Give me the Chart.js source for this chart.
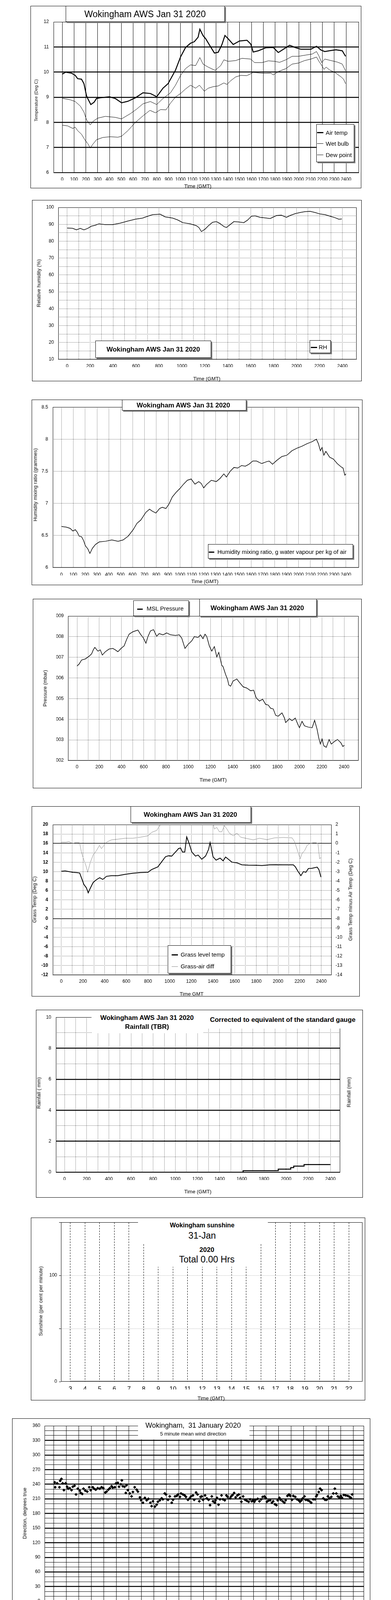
<!DOCTYPE html>
<html>
<head>
<meta charset="utf-8">
<title>Wokingham AWS Jan 31 2020</title>
<script src="https://cdn.jsdelivr.net/npm/chart.js"></script>
<style>
  body { margin: 0; background: #fff; }
  #page { position: relative; width: 1000px; height: 5000px; font-family: 'Liberation Sans', Arial, sans-serif; color: #000; }
  .frame { position: absolute; border: 1px solid #000; box-sizing: border-box; }
  #page canvas { position: absolute; }
  .txt { position: absolute; white-space: pre; transform: translate(-50%, -50%); line-height: 1; }
  .ltxt { position: absolute; white-space: pre; transform: translate(0, -50%); line-height: 1; }
  .vtxt { position: absolute; white-space: pre; transform: translate(-50%, -50%) rotate(-90deg); font-size: 13px; line-height: 1; }
  .lab { position: absolute; background: #fff; border: 1px solid #000; box-sizing: border-box; box-shadow: 3px 3px 0 #808080; }
  .cover { position: absolute; background: #fff; }
  .sw { position: absolute; height: 0; }
</style>
</head>
<body>
<div id="page"></div>
<script>
// time axis for the 24h charts: hundreds per hour (1230 = half past twelve)
const hhmmTicks = [0,100,200,300,400,500,600,700,800,900,1000,1100,1200,1300,1400,1500,1600,1700,1800,1900,2000,2100,2200,2300,2400];

// temperature chart
const tempTicks = [6,7,8,9,10,11,12];
const airTime = [0,30,78,110,131,163,184,205,216,242,269,290,322,400,449,502,555,619,683,746,799,852,895,958,1001,1043,1085,1117,1149,1164,1191,1213,1244,1287,1319,1350,1376,1403,1446,1499,1562,1594,1615,1658,1721,1785,1827,1870,1923,1976,2018,2103,2150,2188,2220,2273,2315,2368,2383,2396];
const airTemp = [9.92,10.0,9.96,9.87,9.74,9.72,9.54,9.07,8.95,8.71,8.80,8.95,8.98,9.02,8.95,8.78,8.84,8.98,9.18,9.15,9.02,9.36,9.54,10.08,10.61,10.98,11.15,11.21,11.39,11.71,11.45,11.33,11.09,10.76,10.79,11.09,11.46,11.33,11.10,11.24,11.27,11.12,10.80,10.85,10.97,10.98,10.78,10.91,11.07,10.97,10.91,10.91,11.03,10.88,10.82,10.86,10.89,10.85,10.73,10.63];
const wetTime = [0,68,110,153,184,205,237,263,301,365,449,502,577,630,683,746,799,852,916,958,1001,1043,1085,1128,1164,1191,1234,1293,1340,1367,1403,1467,1520,1594,1626,1690,1743,1796,1838,1891,1944,1997,2061,2114,2150,2171,2194,2220,2273,2326,2368,2396];
const wetTemp = [8.96,8.90,8.83,8.65,8.41,8.11,7.90,8.05,8.17,8.24,8.20,8.14,8.35,8.53,8.74,8.83,8.71,8.95,9.18,9.48,9.87,10.14,10.29,10.26,10.58,10.32,10.20,10.07,10.26,10.49,10.43,10.46,10.55,10.52,10.38,10.38,10.45,10.43,10.39,10.49,10.63,10.63,10.68,10.72,10.82,10.64,10.38,10.52,10.46,10.40,10.32,10.05];
const dewTime = [0,47,89,110,131,163,195,216,237,259,290,343,407,471,502,555,619,683,742,789,831,878,916,958,1001,1043,1085,1128,1160,1202,1234,1276,1319,1367,1393,1425,1467,1510,1562,1615,1679,1721,1764,1785,1827,1891,1944,1997,2050,2103,2150,2171,2194,2214,2231,2263,2305,2358,2379,2396];
const dewTemp = [7.89,7.86,7.76,7.81,7.67,7.53,7.28,7.16,6.98,7.13,7.31,7.40,7.43,7.41,7.45,7.67,8.00,8.26,8.48,8.38,8.51,8.50,8.77,9.01,9.15,9.33,9.48,9.36,9.48,9.24,9.36,9.42,9.45,9.57,9.51,9.66,9.81,9.87,9.86,9.99,9.96,9.95,9.96,9.89,10.02,10.14,10.32,10.36,10.46,10.52,10.60,10.43,10.27,10.11,10.20,10.08,9.99,9.81,9.72,9.54];

// relative humidity
const rhTicks = [10,15,20,25,30,35,40,45,50,55,60,65,70,75,80,85,90,95,100];
const rhTime = [0,48,81,113,146,179,211,244,277,331,397,462,527,593,658,702,745,810,854,919,963,1007,1072,1126,1148,1170,1203,1235,1268,1301,1333,1366,1388,1420,1453,1497,1540,1573,1606,1638,1682,1725,1769,1791,1824,1867,1911,1943,1987,2031,2074,2118,2161,2205,2248,2292,2336,2368,2394];
const rhVal = [87.8,87.6,86.7,87.6,86.7,87.6,88.9,89.4,90.3,89.8,89.8,90.7,91.9,93.0,93.7,94.8,95.7,96.0,94.4,93.7,92.6,91.0,90.3,89.2,88.1,85.7,87.2,89.4,91.2,91.6,90.4,88.7,88.1,89.8,91.6,91.4,91.0,92.5,94.8,95.0,94.1,93.8,93.4,94.1,95.2,95.4,94.1,95.2,96.3,97.0,97.5,97.7,97.0,96.1,95.7,94.8,93.9,93.0,93.2];

// mixing ratio
const mixTicks = [6,6.5,7,7.5,8,8.5];
const mixTime = [0,42,74,96,117,134,149,170,187,202,223,240,261,287,319,372,425,478,520,563,605,637,669,712,743,765,797,828,850,881,907,935,966,998,1030,1062,1094,1126,1158,1179,1200,1221,1264,1306,1338,1370,1391,1423,1455,1487,1519,1551,1582,1614,1646,1689,1731,1752,1780,1816,1859,1901,1944,1986,2028,2071,2113,2150,2167,2184,2198,2213,2230,2262,2294,2326,2358,2375,2390,2400];
const mixVal = [6.64,6.63,6.61,6.57,6.59,6.55,6.49,6.48,6.42,6.34,6.29,6.22,6.30,6.36,6.40,6.41,6.43,6.41,6.43,6.49,6.59,6.69,6.74,6.86,6.91,6.88,6.85,6.92,6.94,6.92,6.99,7.10,7.17,7.23,7.30,7.36,7.38,7.30,7.34,7.31,7.24,7.29,7.36,7.34,7.39,7.46,7.41,7.50,7.56,7.55,7.59,7.58,7.61,7.66,7.66,7.62,7.65,7.66,7.61,7.67,7.73,7.75,7.82,7.86,7.89,7.93,7.96,8.00,7.93,7.82,7.87,7.75,7.81,7.72,7.69,7.62,7.57,7.55,7.44,7.46];

// MSL pressure
const presTicks = [1002,1003,1004,1005,1006,1007,1008,1009];
const presTime = [0,18,41,74,108,131,146,160,187,209,227,254,288,322,344,367,401,423,446,468,502,547,570,597,619,637,660,687,716,738,772,806,840,885,918,941,970,997,1031,1054,1087,1110,1132,1150,1166,1189,1211,1234,1256,1274,1290,1301,1312,1335,1353,1364,1380,1402,1436,1459,1493,1526,1560,1587,1610,1639,1668,1695,1718,1740,1763,1785,1808,1842,1864,1875,1909,1932,1961,1988,1999,2022,2044,2078,2113,2135,2157,2173,2187,2202,2218,2240,2265,2285,2315,2341,2371,2389,2402];
const presVal = [1006.58,1006.67,1006.87,1006.92,1007.05,1007.17,1007.36,1007.48,1007.30,1007.36,1007.11,1007.27,1007.40,1007.43,1007.36,1007.27,1007.46,1007.55,1007.87,1008.12,1008.24,1008.32,1008.12,1007.93,1007.68,1008.00,1008.28,1008.34,1008.02,1008.15,1008.09,1008.18,1008.09,1008.06,1008.09,1007.93,1007.43,1007.62,1007.80,1008.00,1007.96,1008.09,1007.90,1008.12,1008.00,1007.55,1007.30,1007.52,1007.02,1007.24,1006.86,1006.61,1006.55,1006.17,1005.92,1005.66,1005.60,1005.85,1005.95,1005.79,1005.57,1005.51,1005.38,1005.41,1005.04,1004.88,1004.97,1004.72,1004.69,1004.53,1004.50,1004.19,1004.15,1004.31,1004.06,1003.84,1004.03,1003.93,1004.06,1003.71,1003.59,1003.90,1003.68,1003.62,1003.59,1003.95,1003.52,1003.08,1002.80,1003.05,1002.71,1002.64,1003.02,1002.80,1002.93,1003.02,1002.86,1002.68,1002.74];

// grass temperature (left axis) and grass minus air (right axis)
const grassTicks = [-12,-10,-8,-6,-4,-2,0,2,4,6,8,10,12,14,16,18,20];
const diffTicks = [-14,-13,-12,-11,-10,-9,-8,-7,-6,-5,-4,-3,-2,-1,0,1,2];
const grassTime = [0,35,69,104,139,169,185,208,231,248,266,294,324,354,382,417,463,521,590,660,729,799,833,891,926,961,988,1019,1042,1065,1081,1100,1118,1139,1157,1181,1204,1238,1262,1296,1331,1359,1373,1389,1400,1428,1465,1493,1516,1544,1574,1620,1667,1725,1794,1852,1921,1979,2049,2141,2160,2183,2211,2234,2257,2280,2315,2361,2377,2396];
const grassVal = [10.06,10.14,10.0,9.86,9.80,9.71,8.71,7.27,6.55,5.49,6.41,7.70,8.28,8.71,8.33,9.0,9.14,9.14,9.43,9.66,9.80,9.86,10.43,11.01,12.10,13.16,13.36,13.30,13.88,14.45,14.89,15.03,14.17,14.17,17.39,15.89,14.17,13.30,13.53,12.64,13.30,14.74,16.18,14.45,13.16,12.44,12.87,12.30,13.10,12.59,12.01,11.87,11.44,11.38,11.35,11.29,11.44,11.47,11.44,11.44,11.01,10.09,9.14,10.0,9.86,10.66,10.72,10.95,10.43,8.85];
const diffTime = [0,46,69,104,139,169,185,208,227,243,266,294,324,352,370,394,417,463,521,590,660,729,799,833,880,914,950,1000,1050,1100,1157,1200,1250,1285,1308,1331,1373,1400,1412,1435,1458,1481,1505,1528,1551,1586,1620,1655,1713,1771,1829,1898,1968,2049,2130,2153,2176,2204,2222,2245,2269,2299,2338,2368,2384,2396];
const diffVal = [0.13,0.13,0.20,-0.01,0.12,0.06,-0.92,-1.78,-2.36,-3.07,-2.07,-1.21,-0.77,-0.20,-0.56,-0.20,0.13,0.38,0.45,0.55,0.55,0.66,0.81,1.17,1.38,2.0,2.3,2.6,3.0,3.8,5.8,3.1,2.4,1.98,2.2,2.5,4.8,2.2,1.53,1.70,1.24,1.24,1.89,1.53,1.09,0.81,1.09,0.66,0.52,0.38,0.55,0.40,0.59,0.63,0.59,0.16,-0.63,-1.64,-1.06,-0.77,-0.20,0.02,0.09,0.02,-1.64,-1.49];

// rainfall, cumulative mm (tipping bucket steps)
const rainTicks = [0,1,2,3,4,5,6,7,8,9,10];
const rainTime = [0,1612,1929,2042,2069,2162,2400];
const rainVal = [0,0.1,0.2,0.3,0.4,0.5,0.5];

// sunshine
const sunHours = [3,4,5,6,7,8,9,10,11,12,13,14,15,16,17,18,19,20,21,22];
const sunVal = [0,0,0,0,0,0,0,0,0,0,0,0,0,0,0,0,0,0,0,0];
const sunTicks = [0,50,100,150];

// wind direction, 5 minute means
const dayHours = [0,1,2,3,4,5,6,7,8,9,10,11,12,13,14,15,16,17,18,19,20,21,22,23,24];
const dirTicks = [0,10,20,30,40,50,60,70,80,90,100,110,120,130,140,150,160,170,180,190,200,210,220,230,240,250,260,270,280,290,300,310,320,330,340,350,360];
const dirHour = [
  0.06,0.10,0.26,0.44,0.50,0.60,0.70,0.80,0.94,
  1.06,1.14,1.27,1.41,1.51,1.65,1.77,1.91,
  2.07,2.15,2.27,2.37,2.51,2.67,2.83,2.95,
  3.11,3.21,3.35,3.51,3.67,3.82,3.96,
  4.12,4.22,4.36,4.48,4.62,4.72,4.88,4.98,
  5.12,5.22,5.36,5.44,5.52,5.66,5.76,5.82,5.92,
  6.08,6.22,6.33,6.47,6.63,6.73,6.89,6.99,
  7.13,7.29,7.43,7.57,7.73,7.83,7.93,
  8.09,8.23,8.33,8.49,8.63,8.73,8.88,8.98,
  9.14,9.28,9.44,9.54,9.70,9.84,9.94,
  10.10,10.18,10.34,10.48,10.58,10.74,10.88,10.98,
  11.14,11.24,11.39,11.51,11.65,11.75,11.85,11.95,
  12.11,12.25,12.39,12.51,12.65,12.75,12.89,12.95,
  13.07,13.19,13.31,13.43,13.55,13.69,13.82,13.92,
  14.12,14.20,14.32,14.44,14.56,14.70,14.82,14.92,
  15.02,15.16,15.32,15.46,15.60,15.72,15.86,15.96,
  16.06,16.16,16.33,16.47,16.61,16.73,16.87,16.97,
  17.07,17.17,17.33,17.47,17.57,17.71,17.83,17.93,
  18.07,18.17,18.33,18.47,18.57,18.71,18.84,18.94,
  19.08,19.18,19.34,19.48,19.62,19.72,19.84,19.94,
  20.08,20.18,20.34,20.48,20.62,20.78,20.92,
  21.02,21.08,21.22,21.33,21.45,21.59,21.73,21.85,21.95,
  22.08,22.23,22.39,22.51,22.63,22.75,22.89,22.99,
  23.09,23.23,23.39,23.55,23.69,23.80,23.90];
const dirDeg = [
  244,234,242,234,247,251,242,228,242,
  235,231,232,228,235,237,219,231,
  227,222,220,231,227,225,234,228,
  234,231,229,232,231,234,232,
  223,225,229,232,236,233,234,242,
  243,235,240,248,236,235,222,238,228,
  221,215,224,234,229,225,213,207,
  202,212,207,210,202,195,205,
  194,198,204,207,211,209,221,219,
  208,215,202,208,215,216,219,
  214,221,219,217,214,208,211,215,
  217,208,223,219,205,214,215,208,
  217,211,208,197,215,205,202,207,
  212,198,209,217,209,207,217,214,
  211,215,218,222,213,217,219,212,
  204,215,208,206,204,209,205,207,
  204,208,210,205,209,214,215,212,
  204,206,207,202,205,199,197,207,
  212,208,205,202,207,216,219,216,
  208,216,214,209,207,204,207,211,
  215,208,207,205,202,209,209,
  215,218,224,231,228,211,208,208,215,
  211,214,221,231,221,215,212,216,
  212,218,217,216,214,212,219];

// wind speed, knots
const clockTicks = [0,1,2,3,4,5,6,7,8,9,10,11,12,13,14,15,16,17,18,19,20,21,22,23];
const clockLabels = ['00:00','01:00','02:00','03:00','04:00','05:00','06:00','07:00','08:00','09:00','10:00','11:00','12:00','13:00','14:00','15:00','16:00','17:00','18:00','19:00','20:00','21:00','22:00','23:00'];
const speedTicks = [0,5,10,15,20,25,30,35,40,45,50];
const meanTime = [0,0.16,0.31,0.45,0.65,0.84,0.98,1.14,1.33,1.53,1.72,1.92,2.11,2.31,2.47,2.60,2.80,2.99,3.19,3.39,3.68,3.97,4.27,4.56,4.85,5.09,5.34,5.64,5.93,6.22,6.52,6.77,7.01,7.30,7.59,7.89,8.18,8.47,8.77,8.96,9.26,9.55,9.90,10.14,10.43,10.63,10.82,11.08,11.31,11.51,11.74,11.99,12.29,12.58,12.78,12.97,13.23,13.46,13.70,13.99,14.25,14.54,14.83,15.13,15.42,15.71,16.01,16.30,16.56,16.79,17.03,17.28,17.57,17.87,18.16,18.45,18.75,18.94,19.24,19.49,19.73,20.02,20.31,20.61,20.90,21.19,21.49,21.78,22.04,22.27,22.56,22.86,23.09,23.35,23.64,23.88,24.0];
const meanSpeed = [6.4,7.1,6.1,6.1,8.2,8.4,5.6,7.3,6.6,6.8,6.4,6.1,6.6,6.1,4.9,7.1,9.9,9.8,8.0,8.9,10.0,8.9,8.6,9.3,10.8,9.9,6.8,7.8,7.3,8.7,7.8,9.2,7.1,8.7,7.1,6.6,7.8,7.5,8.2,7.5,10.3,11.8,15.5,13.2,13.9,11.3,13.9,12.9,14.6,13.2,11.5,11.8,10.8,11.5,12.2,9.4,11.8,10.1,11.5,14.6,12.5,12.2,12.2,9.9,11.8,10.8,12.2,10.1,9.4,10.6,12.2,9.4,11.3,9.9,8.7,9.9,9.4,8.2,9.4,11.5,9.9,9.0,8.7,8.2,8.0,7.8,8.9,9.2,6.4,6.8,7.1,7.5,7.3,8.7,7.3,9.4,9.7];
const gustTime = [
  0,0.08,0.15,0.22,0.28,0.38,0.45,0.52,0.58,0.66,0.72,0.80,0.88,0.95,
  1.02,1.10,1.18,1.26,1.33,1.42,1.50,1.58,1.66,1.74,1.82,1.90,1.98,
  2.06,2.14,2.22,2.30,2.40,2.50,2.58,2.66,2.72,2.80,2.88,2.96,
  3.04,3.12,3.20,3.28,3.36,3.42,3.50,3.58,3.66,3.74,3.82,3.90,3.98,
  4.06,4.14,4.22,4.30,4.38,4.46,4.54,4.62,4.70,4.78,4.86,4.94,
  5.02,5.10,5.18,5.26,5.34,5.42,5.50,5.58,5.66,5.74,5.82,5.90,5.98,
  6.06,6.14,6.22,6.30,6.38,6.46,6.54,6.62,6.70,6.78,6.86,6.94,
  7.02,7.10,7.18,7.26,7.34,7.42,7.50,7.58,7.66,7.74,7.82,7.90,7.98,
  8.06,8.14,8.22,8.30,8.38,8.46,8.54,8.62,8.70,8.78,8.86,8.94,
  9.02,9.10,9.18,9.26,9.34,9.42,9.48,9.56,9.62,9.70,9.76,9.84,9.92,
  10.00,10.08,10.16,10.24,10.32,10.40,10.48,10.56,10.64,10.70,10.78,10.84,10.92,
  11.00,11.08,11.16,11.24,11.32,11.40,11.48,11.56,11.64,11.72,11.80,11.88,11.96,
  12.04,12.12,12.20,12.28,12.36,12.44,12.52,12.60,12.68,12.76,12.84,12.92,
  13.00,13.08,13.16,13.24,13.32,13.40,13.48,13.56,13.64,13.72,13.80,13.86,13.94,
  14.02,14.10,14.16,14.24,14.32,14.40,14.48,14.56,14.64,14.72,14.80,14.88,14.96,
  15.04,15.12,15.20,15.28,15.36,15.44,15.52,15.60,15.68,15.76,15.84,15.92,
  16.00,16.08,16.16,16.24,16.32,16.40,16.48,16.56,16.64,16.72,16.80,16.88,16.96,
  17.04,17.12,17.20,17.28,17.36,17.44,17.52,17.60,17.68,17.76,17.84,17.92,
  18.00,18.08,18.16,18.24,18.32,18.40,18.48,18.56,18.64,18.72,18.80,18.88,18.96,
  19.04,19.12,19.20,19.28,19.36,19.43,19.50,19.58,19.66,19.74,19.82,19.90,19.98,
  20.06,20.14,20.22,20.30,20.38,20.46,20.54,20.62,20.70,20.78,20.86,20.94,
  21.02,21.10,21.18,21.26,21.34,21.42,21.50,21.58,21.66,21.74,21.82,21.90,21.98,
  22.06,22.14,22.22,22.30,22.38,22.46,22.54,22.62,22.70,22.78,22.86,22.94,
  23.02,23.10,23.18,23.26,23.34,23.42,23.50,23.58,23.66,23.74,23.82,23.88,23.94,24.00];
const gustSpeed = [
  9.5,12.0,7.0,15.5,8.0,18.4,9.0,17.4,8.5,14.0,9.0,13.5,9.5,12.0,
  7.5,11.5,8.0,13.7,8.5,12.5,9.0,13.0,8.0,11.0,8.5,12.5,7.5,
  11.0,8.0,12.5,7.0,10.5,7.5,13.5,10.0,16.0,11.0,15.0,11.5,
  14.0,10.5,15.5,11.0,17.0,10.5,18.3,11.5,16.0,10.5,14.5,11.0,13.5,
  10.5,14.0,9.5,15.5,10.5,14.5,11.0,16.0,11.5,18.6,12.0,16.0,
  11.0,13.5,9.0,12.5,8.0,13.0,9.0,14.5,9.5,15.5,10.0,13.0,9.0,
  14.5,9.5,15.5,10.0,13.5,9.0,14.0,10.5,15.5,10.0,13.0,9.0,
  14.0,9.5,12.5,8.5,14.0,9.0,12.0,8.0,13.0,8.5,12.0,8.0,13.5,
  9.0,14.0,9.5,12.5,8.5,14.0,9.5,15.5,10.0,16.0,10.5,13.0,
  11.5,16.5,13.0,19.5,14.0,26.6,16.0,21.0,17.0,26.6,18.0,21.5,16.5,
  20.0,15.0,22.0,16.0,19.0,14.5,21.0,15.5,27.1,17.0,25.4,17.5,23.0,
  15.0,21.0,15.5,20.0,14.5,19.0,14.0,20.5,13.5,18.0,13.0,17.5,12.5,
  19.0,13.0,16.5,12.5,20.5,13.5,18.0,14.0,19.5,13.5,17.0,11.5,
  16.0,12.5,20.0,13.0,18.5,12.5,21.5,14.0,24.5,15.5,28.2,17.0,22.0,
  16.0,26.5,17.5,21.0,15.0,22.5,15.5,20.0,14.0,19.0,14.5,21.5,13.5,
  18.0,12.0,19.5,13.0,17.5,12.5,20.0,13.5,18.5,12.5,17.0,13.0,
  19.0,14.0,18.0,12.5,16.5,12.0,19.5,13.0,17.0,23.1,14.5,18.5,13.0,
  17.5,12.5,16.0,11.5,18.0,12.5,16.5,12.0,17.0,11.5,16.0,11.0,
  15.0,10.5,16.5,11.0,14.5,10.5,15.5,11.0,14.0,10.0,13.5,10.5,15.0,
  11.5,16.5,12.0,18.0,12.5,19.3,13.0,17.0,11.5,15.5,11.0,14.5,10.5,
  15.0,10.0,13.5,10.5,14.5,10.0,13.0,9.5,14.0,10.0,15.5,10.5,
  13.5,9.5,14.0,10.0,16.0,10.5,14.5,11.0,15.5,10.5,13.0,9.0,11.5,
  7.5,11.5,7.0,12.0,8.0,10.5,7.5,12.5,8.0,11.0,7.5,13.5,
  8.5,12.0,8.0,13.0,9.0,14.5,9.5,13.0,10.0,15.5,10.5,17.9,11.0,15.5];

// ---------------------------------------------------------------

Chart.defaults.font.family = "'Liberation Sans', Arial, sans-serif";
Chart.defaults.font.size = 12;
Chart.defaults.color = '#000';
Chart.defaults.animation = false;
Chart.defaults.plugins.legend.display = false;
Chart.defaults.plugins.tooltip.enabled = false;

const page = document.getElementById('page');

function el(cls, x, y, w, h, s, css) {
  const d = document.createElement('div');
  d.className = cls;
  d.style.left = x + 'px';
  d.style.top = y + 'px';
  if (w != null) d.style.width = w + 'px';
  if (h != null) d.style.height = h + 'px';
  if (s != null) d.textContent = s;
  if (css) d.style.cssText += css;
  page.appendChild(d);
  return d;
}
function text(x, y, s, css) { return el('txt', x, y, null, null, s, css); }
function ltext(x, y, s, css) { return el('ltxt', x, y, null, null, s, css); }
function vtext(x, y, s, css) { return el('vtxt', x, y, null, null, s, css); }
function swatch(x1, x2, y, w, color) {
  return el('sw', x1, y - w / 2, x2 - x1, null, null, 'border-top:' + w + 'px solid ' + color);
}

// outline of the plot area
const plotFrame = {
  id: 'plotFrame',
  afterDatasetsDraw(chart) {
    const a = chart.chartArea, c = chart.ctx;
    c.save();
    c.strokeStyle = '#000';
    c.lineWidth = 1;
    c.strokeRect(Math.round(a.left) + 0.5, Math.round(a.top) + 0.5, Math.round(a.right - a.left) - 1, Math.round(a.bottom - a.top) - 1);
    c.restore();
  }
};

const YW = 30, XH = 20;
function panel(box, plot, cfg) {
  el('frame', box.x, box.y, box.w, box.h);
  const cv = document.createElement('canvas');
  cv.width = box.w;
  cv.height = box.h;
  cv.style.left = box.x + 'px';
  cv.style.top = box.y + 'px';
  page.appendChild(cv);
  const sc = cfg.options.scales;
  sc.x.afterFit = s => { s.height = XH; };
  sc.y.afterFit = s => { s.width = YW; };
  if (sc.y2) sc.y2.afterFit = s => { s.width = YW; };
  cfg.options.responsive = false;
  cfg.options.layout = {
    autoPadding: false,
    padding: {
      left: plot.l - box.x - YW,
      top: plot.t - box.y,
      right: box.x + box.w - plot.r - (sc.y2 ? YW : 0),
      bottom: box.y + box.h - plot.b - XH
    }
  };
  cfg.plugins = [plotFrame];
  return new Chart(cv, cfg);
}

function pts(xs, ys) { return xs.map((x, i) => ({ x: x, y: ys[i] })); }
function line(xs, ys, color, width, extra) {
  return Object.assign({ data: pts(xs, ys), borderColor: color, borderWidth: width, pointRadius: 0, tension: 0, fill: false }, extra || {});
}
function gridOpts(width, dash, color) {
  return { grid: { color: color || '#000', lineWidth: width, drawTicks: false }, border: { display: false, dash: dash } };
}
function fixed(values) { return s => { s.ticks = values.map(v => ({ value: v })); }; }

function hhmmAxis(min, max, pad, stagger, grid) {
  return Object.assign({
    type: 'linear', min: min, max: max,
    afterBuildTicks: fixed(hhmmTicks),
    ticks: {
      autoSkip: false, maxRotation: 0, padding: pad, font: { size: 12, lineHeight: 1.2 },
      callback: (v, i) => stagger ? (i % 2 ? ['', String(hhmmTicks[i])] : [String(hhmmTicks[i]), '']) : String(hhmmTicks[i])
    }
  }, grid);
}
function valAxis(min, max, values, pad, grid, labelFn, font) {
  return Object.assign({
    type: 'linear', min: min, max: max,
    afterBuildTicks: fixed(values),
    ticks: { autoSkip: false, padding: pad, font: font || { size: 12 }, callback: labelFn || (v => String(v)) }
  }, grid);
}

// ---- 1. temperatures ----
panel({ x: 78, y: 15, w: 846, h: 467 }, { l: 137, t: 56, r: 918, b: 442 }, {
  type: 'line',
  data: { datasets: [
    line(airTime, airTemp, '#000', 2.5),
    line(wetTime, wetTemp, '#000', 1),
    line(dewTime, dewTemp, '#000', 1)
  ] },
  options: { scales: {
    x: hhmmAxis(-73, 2509, 10, false, gridOpts(1, [])),
    y: valAxis(6, 12, tempTicks, 12, gridOpts(c => (c.tick.value > 6 && c.tick.value < 12) ? 2.5 : 1, []))
  } }
});
el('lab', 168, 15, 407, 41);
text(371, 36, 'Wokingham AWS Jan 31 2020', 'font-size:23px');
el('lab', 809, 318, 97, 97);
swatch(811, 827, 339, 3, '#000'); ltext(833, 339, 'Air temp', 'font-size:15px');
swatch(811, 827, 367, 1, '#000'); ltext(833, 367, 'Wet bulb', 'font-size:15px');
swatch(811, 827, 396, 1, '#000'); ltext(833, 396, 'Dew point', 'font-size:15px');
vtext(93, 257, 'Temperature (Deg C)', 'font-size:11.5px');
text(506, 476, 'Time (GMT)', 'font-size:13px');

// ---- 2. relative humidity ----
panel({ x: 82, y: 512, w: 843, h: 464 }, { l: 149, t: 531, r: 912, b: 920 }, {
  type: 'line',
  data: { datasets: [line(rhTime, rhVal, '#000', 1.5)] },
  options: { scales: {
    x: hhmmAxis(-78, 2523, 10, true, gridOpts(1, [1, 2])),
    y: valAxis(10, 100, rhTicks, 11, gridOpts(1, [1, 2]), v => v % 10 ? '' : String(v))
  } }
});
el('lab', 244, 872, 296, 44);
text(392, 894, 'Wokingham AWS Jan 31 2020', 'font-size:17px;font-weight:bold');
el('lab', 792, 871, 54, 33);
swatch(795, 811, 889, 3, '#000'); ltext(815, 888, 'RH', 'font-size:15px');
vtext(99, 725, 'Relative humidity (%)');
text(529, 969, 'Time (GMT)', 'font-size:13px');

// ---- 3. mixing ratio ----
panel({ x: 81, y: 1023, w: 846, h: 475 }, { l: 135, t: 1029, r: 918, b: 1453 }, {
  type: 'line',
  data: { datasets: [line(mixTime, mixVal, '#000', 1.5)] },
  options: { scales: {
    x: hhmmAxis(-73, 2509, 11, false, gridOpts(1, [1, 2])),
    y: valAxis(6, 8.5, mixTicks, 12, gridOpts(1, [1, 2]))
  } }
});
el('lab', 312, 1023, 318, 28);
text(469, 1037, 'Wokingham AWS Jan 31 2020', 'font-size:17px;font-weight:bold');
el('lab', 532, 1393, 371, 37);
swatch(534, 548, 1413, 3, '#000'); ltext(556, 1412, 'Humidity mixing ratio, g water vapour per kg of air', 'font-size:15px');
vtext(90, 1241, 'Humidity mixing ratio (grammes)');
text(524, 1488, 'Time (GMT)', 'font-size:13px');

// ---- 4. pressure ----
panel({ x: 84, y: 1533, w: 841, h: 485 }, { l: 174, t: 1577, r: 917, b: 1947 }, {
  type: 'line',
  data: { datasets: [line(presTime, presVal, '#000', 1.5)] },
  options: { scales: {
    x: hhmmAxis(-81, 2530, 9, true, gridOpts(1, [1, 2])),
    y: valAxis(1002, 1009, presTicks, 11, gridOpts(1, [1, 2]))
  } }
});
el('lab', 341, 1537, 142, 40);
swatch(351, 365, 1559, 3, '#000'); ltext(375, 1557, 'MSL Pressure', 'font-size:15px');
el('lab', 510, 1533, 300, 45);
text(658, 1556, 'Wokingham AWS Jan 31 2020', 'font-size:17px;font-weight:bold');
vtext(115, 1762, 'Pressure (mbar)');
text(545, 1996, 'Time (GMT)', 'font-size:13px');

// ---- 5. grass temperature ----
const heavyGrass = v => v === 16 || v === 0;
panel({ x: 81, y: 2064, w: 839, h: 487 }, { l: 135, t: 2111, r: 848, b: 2496 }, {
  type: 'line',
  data: { datasets: [
    line(diffTime, diffVal, '#888', 1, { yAxisID: 'y2' }),
    line(grassTime, grassVal, '#000', 2, { yAxisID: 'y' })
  ] },
  options: { scales: {
    x: hhmmAxis(-79, 2494, 9, true, gridOpts(1, [1, 2])),
    y: valAxis(-12, 20, grassTicks, 12,
      gridOpts(c => heavyGrass(c.tick.value) ? 1.5 : 1, c => heavyGrass(c.tick.value) ? [] : [1, 2]),
      null, { size: 12, weight: 'bold' }),
    y2: Object.assign(valAxis(-14, 2, diffTicks, 10, { grid: { display: false, drawTicks: false }, border: { display: false } }), { position: 'right' })
  } }
});
el('lab', 334, 2064, 308, 42);
text(487, 2085, 'Wokingham AWS Jan 31 2020', 'font-size:17px;font-weight:bold');
el('lab', 429, 2420, 162, 72);
swatch(439, 455, 2444, 3, '#000'); ltext(462, 2443, 'Grass level temp', 'font-size:15px');
swatch(439, 455, 2474, 1, '#888'); ltext(462, 2473, 'Grass-air diff', 'font-size:15px');
vtext(88, 2303, 'Grass Temp (Deg C)');
vtext(896, 2303, 'Grass Temp minus Air Temp (Deg C)');
text(490, 2544, 'Time GMT', 'font-size:13px');

// ---- 6. rainfall ----
panel({ x: 92, y: 2585, w: 836, h: 481 }, { l: 143, t: 2592, r: 870, b: 3001 }, {
  type: 'line',
  data: { datasets: [line(rainTime, rainVal, '#000', 2.5, { stepped: 'before' })] },
  options: { scales: {
    x: hhmmAxis(-78, 2488, 10, true, gridOpts(1, [1, 2])),
    y: valAxis(0, 10, rainTicks, 12,
      gridOpts(c => (c.tick.value % 2 === 0 && c.tick.value > 0 && c.tick.value < 10) ? 2.5 : 1, c => c.tick.value % 2 ? [1, 2] : []),
      v => v % 2 ? '' : String(v))
  } }
});
el('cover', 234, 2587, 285, 59);
el('cover', 519, 2587, 408, 46);
text(376, 2605, 'Wokingham AWS Jan 31 2020', 'font-size:17px;font-weight:bold');
text(376, 2628, 'Rainfall (TBR)', 'font-size:17px;font-weight:bold');
text(723, 2610, 'Corrected to equivalent of the standard gauge', 'font-size:17px;font-weight:bold');
vtext(99, 2798, 'Rainfall ( mm)');
vtext(892, 2796, 'Rainfall (mm)');
text(506, 3050, 'Time (GMT)', 'font-size:13px');

// ---- 7. sunshine ----
panel({ x: 79, y: 3117, w: 855, h: 468 }, { l: 156, t: 3128, r: 927, b: 3537 }, {
  type: 'line',
  data: { datasets: [line(sunHours, sunVal, '#000', 3)] },
  options: { scales: {
    x: Object.assign({
      type: 'linear', min: 2.36, max: 22.93,
      afterBuildTicks: fixed(sunHours),
      ticks: { autoSkip: false, maxRotation: 0, padding: 10, font: { size: 16 }, callback: v => String(v) }
    }, gridOpts(1, [4, 3])),
    y: {
      type: 'linear', min: 0, max: 150,
      afterBuildTicks: fixed(sunTicks),
      ticks: { padding: 5, font: { size: 12 }, callback: v => (v === 0 || v === 100) ? String(v) : '' },
      grid: { color: c => (c.tick.value === 50 || c.tick.value === 100) ? '#aaa' : 'rgba(0,0,0,0)', lineWidth: 1, drawTicks: true, tickLength: 5, tickColor: '#000' },
      border: { display: false, dash: [1, 1] }
    }
  } }
});
el('cover', 353, 3127, 332, 57);
el('cover', 370, 3184, 296, 59);
text(517, 3137, 'Wokingham sunshine', 'font-size:16px;font-weight:bold');
text(517, 3163, '31-Jan', 'font-size:23px');
text(529, 3199, '2020', 'font-size:17px;font-weight:bold');
text(529, 3224, 'Total 0.00 Hrs', 'font-size:23px');
vtext(104, 3331, 'Sunshine (per cent per minute)');
text(540, 3579, 'Time (GMT)', 'font-size:13px');

// ---- 8. wind direction ----
panel({ x: 31, y: 3631, w: 916, h: 516 }, { l: 114, t: 3650, r: 931, b: 4099 }, {
  type: 'scatter',
  data: { datasets: [{
    data: pts(dirHour, dirDeg), pointStyle: 'rectRot', pointRadius: 4,
    backgroundColor: '#000', borderColor: '#000', borderWidth: 0, showLine: false
  }] },
  options: { scales: {
    x: Object.assign({
      type: 'linear', min: -0.75, max: 24.85,
      afterBuildTicks: fixed(dayHours),
      ticks: { autoSkip: false, maxRotation: 0, padding: 11, font: { size: 12 }, callback: v => String(v) }
    }, gridOpts(1, [])),
    y: valAxis(0, 360, dirTicks, 11,
      gridOpts(c => (c.tick.value % 30 === 0 && c.tick.value > 0 && c.tick.value < 360) ? 2.5 : 1, []),
      v => v % 30 ? '' : String(v))
  } }
});
el('cover', 353, 3640, 285, 45);
text(494, 3649, 'Wokingham,  31 January 2020', 'font-size:18px');
text(494, 3670, '5 minute mean wind direction', 'font-size:13px');
vtext(63, 3874, 'Direction, degrees true');
text(521, 4135, 'Time (GMT)', 'font-size:13px');

// ---- 9. wind speed ----
panel({ x: 29, y: 4171, w: 917, h: 494 }, { l: 87, t: 4215, r: 940, b: 4594 }, {
  type: 'line',
  data: { datasets: [
    line(gustTime, gustSpeed, '#555', 1),
    line(meanTime, meanSpeed, '#000', 2)
  ] },
  options: { scales: {
    x: Object.assign({
      type: 'linear', min: -0.7, max: 25.35,
      afterBuildTicks: fixed(clockTicks),
      ticks: { autoSkip: false, maxRotation: 0, padding: 10, font: { size: 12, lineHeight: 1.2 },
        callback: (v, i) => i % 2 ? ['', clockLabels[i]] : [clockLabels[i], ''] }
    }, gridOpts(1, [1, 2])),
    y: valAxis(0, 50, speedTicks, 12, gridOpts(1, [1, 2]), v => v % 10 ? '' : String(v))
  } }
});
text(256, 4194, 'Wokingham,  31 January 2020', 'font-size:18px');
text(566, 4184, 'Wind speed, 10 min mean / max gust', 'font-size:14px');
text(566, 4201, 'Speeds below 4 kt shown at x10 scale', 'font-size:13px');
el('lab', 720, 4177, 220, 25);
swatch(751, 763, 4189, 2, '#000'); ltext(770, 4189, 'Speed x 1', 'font-size:10px;letter-spacing:0.5px');
ltext(838, 4189, '\u25C7', 'font-size:12px;font-family:DejaVu Sans');
ltext(856, 4189, 'Speed / 10', 'font-size:10px;letter-spacing:0.5px');
vtext(42, 4404, 'Speed (knots)');
text(513, 4643, 'Time (GMT)', 'font-size:13px');
</script>
</body>
</html>
